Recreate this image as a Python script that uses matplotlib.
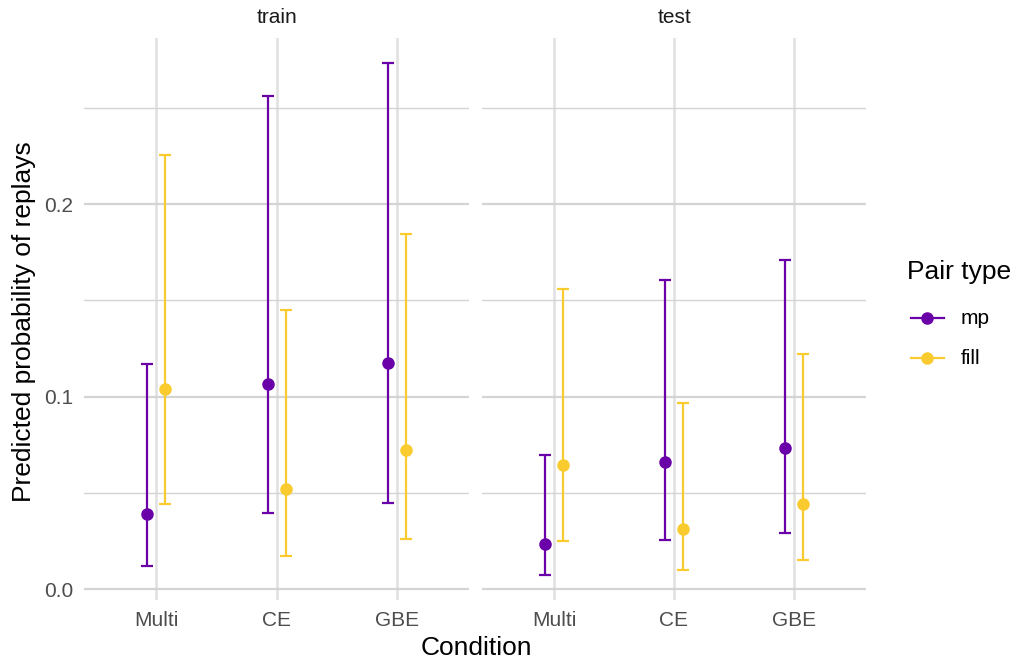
import numpy as np
import matplotlib.pyplot as plt

plt.rcParams['font.family'] = ['Liberation Sans', 'DejaVu Sans']

# データ
conditions = ['Multi', 'CE', 'GBE']
pair_types = ['mp', 'fill']
phases = ['train', 'test']

train_mp = [0.0391, 0.1064, 0.1173]
train_mp_lo = [0.0122, 0.0394, 0.0450]
train_mp_hi = [0.1170, 0.2563, 0.2731]
train_fill = [0.1040, 0.0519, 0.0722]
train_fill_lo = [0.0441, 0.0173, 0.0260]
train_fill_hi = [0.2253, 0.1450, 0.1843]

test_mp = [0.0235, 0.0659, 0.0732]
test_mp_lo = [0.0076, 0.0254, 0.0294]
test_mp_hi = [0.0699, 0.1606, 0.1711]
test_fill = [0.0644, 0.0313, 0.0441]
test_fill_lo = [0.0251, 0.0099, 0.0151]
test_fill_hi = [0.1561, 0.0967, 0.1220]

colors = {'mp': '#6A00A8', 'fill': '#F9CB2F'}
dodge = {'mp': -0.075, 'fill': 0.075}

series = {
    'train': {'mp': (train_mp, train_mp_lo, train_mp_hi),
              'fill': (train_fill, train_fill_lo, train_fill_hi)},
    'test': {'mp': (test_mp, test_mp_lo, test_mp_hi),
             'fill': (test_fill, test_fill_lo, test_fill_hi)},
}

W, H = 1016, 661
fig = plt.figure(figsize=(W / 100, H / 100), dpi=100)

# パネル位置 [px]
panels = {'train': (84.3, 469.0), 'test': (482.0, 866.0)}
top, bottom = 38, 600

x = np.arange(len(conditions))
for phase in phases:
    l, r = panels[phase]
    ax = fig.add_axes([l / W, (H - bottom) / H, (r - l) / W, (bottom - top) / H])
    ax.set_xlim(-0.6, 2.6)
    ax.set_ylim(-0.0056, 0.2863)

    # グリッド
    ax.set_yticks([0.0, 0.1, 0.2])
    ax.set_yticks([0.05, 0.15, 0.25], minor=True)
    ax.set_xticks(x)
    ax.grid(True, which='major', axis='y', color='#d4d4d4', lw=1.6, zorder=0)
    ax.grid(True, which='minor', axis='y', color='#d4d4d4', lw=1.0, zorder=0)
    ax.grid(True, which='major', axis='x', color='#e0e0e0', lw=1.8, zorder=0)
    for s in ax.spines.values():
        s.set_visible(False)
    ax.tick_params(which='both', length=0, labelsize=15, labelcolor='#4d4d4d', pad=8)
    ax.set_xticklabels(conditions)
    if phase == 'train':
        ax.set_yticklabels(['0.0', '0.1', '0.2'])
    else:
        ax.set_yticklabels([])

    for pt in pair_types:
        est, lo, hi = series[phase][pt]
        est = np.array(est)
        yerr = [est - np.array(lo), np.array(hi) - est]
        ax.errorbar(x + dodge[pt], est, yerr=yerr, fmt='o', color=colors[pt],
                    ms=8, elinewidth=1.6, capsize=4.4, capthick=1.6, zorder=3)

    ax.text(0.5, 1 + 20 / (bottom - top), phase, transform=ax.transAxes,
            ha='center', va='center', fontsize=15, color='#1a1a1a')

# 軸ラベル
fig.text(476 / W, 1 - 648 / H, 'Condition', ha='center', va='center', fontsize=19)
fig.text(24 / W, 1 - 322 / H, 'Predicted probability of replays', ha='center',
         va='center', rotation=90, fontsize=19)

# 凡例
fig.text(907 / W, 1 - 272 / H, 'Pair type', ha='left', va='center', fontsize=19)
for pt, yy in zip(pair_types, [318, 358]):
    yf = 1 - yy / H
    fig.add_artist(plt.Line2D([910.5 / W, 943.5 / W], [yf, yf], color=colors[pt], lw=1.6,
                              transform=fig.transFigure))
    fig.add_artist(plt.Line2D([927 / W], [yf], marker='o', ms=8, color=colors[pt],
                              transform=fig.transFigure))
    fig.text(961 / W, yf, pt, ha='left', va='center', fontsize=15)

fig.savefig('out.png', dpi=100, facecolor='white')
